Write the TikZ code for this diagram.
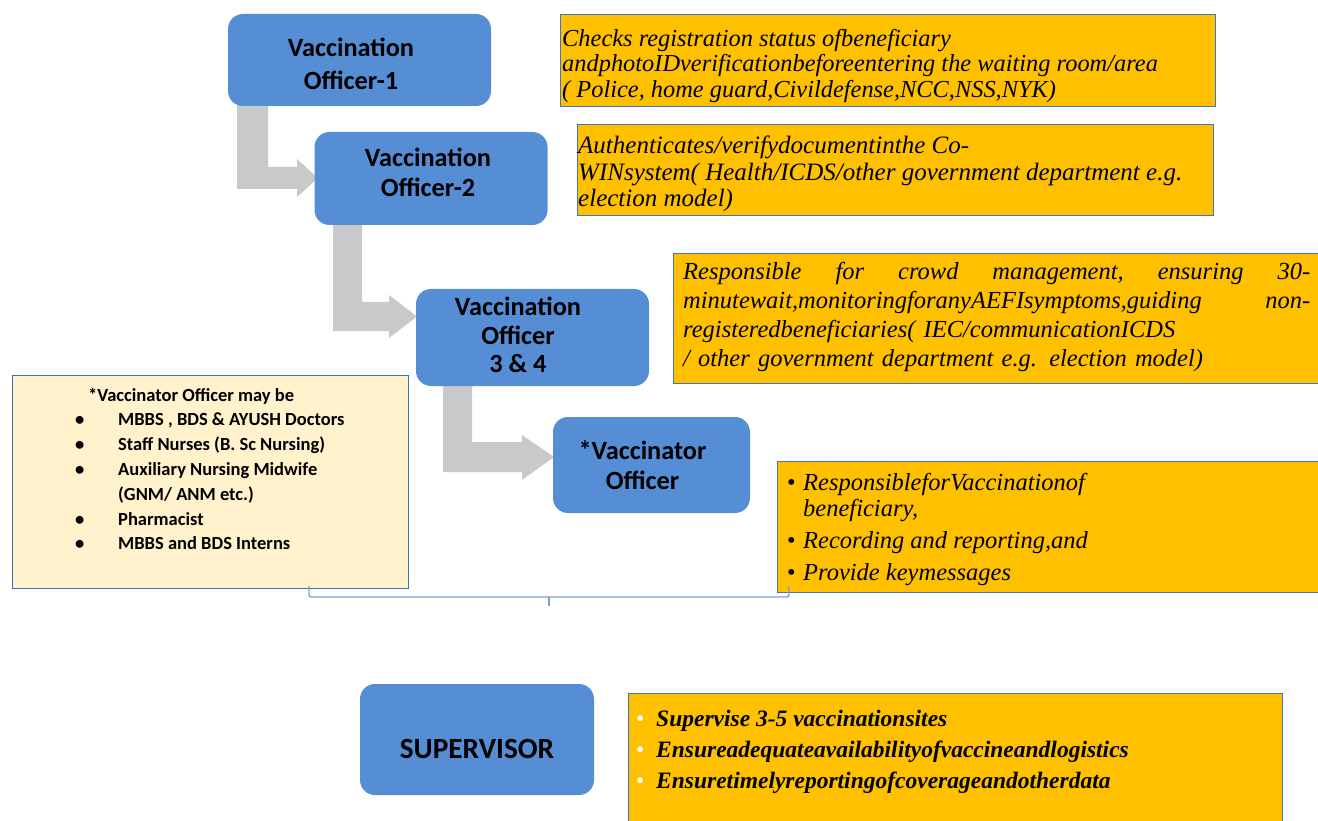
\documentclass[tikz,border=0pt]{standalone}
\usepackage{fontspec}
\setmainfont{Liberation Serif}
\newfontfamily\calibri{Carlito}
\definecolor{boxblue}{RGB}{85,142,213}
\definecolor{orng}{RGB}{255,192,0}
\definecolor{obrd}{RGB}{68,114,196}
\definecolor{lyel}{RGB}{255,242,204}
\definecolor{lbrd}{RGB}{46,117,182}
\definecolor{agray}{RGB}{200,201,203}
\definecolor{brc}{RGB}{122,158,212}
\begin{document}
\begin{tikzpicture}[x=1pt,y=-1pt,
  bluebox/.style={rectangle,rounded corners=15pt,fill=boxblue,draw=none,inner sep=0pt},
  bluetext/.style={inner sep=0pt,align=center,font=\calibri\bfseries\fontsize{26.3}{30}\selectfont},
  obox/.style={rectangle,fill=orng,draw=obrd,line width=0.8pt,inner sep=0pt,anchor=north west},
  otext/.style={inner sep=0pt,anchor=west,align=left,font=\itshape\fontsize{24.4}{25.5}\selectfont},
  garrow/.style={fill=agray,draw=none}]
\clip (0,0) rectangle (1318,821);
\fill[white] (0,0) rectangle (1318,821);

% gray bent arrows
\fill[garrow] (237,100) -- (268,100) -- (268,167) -- (297,167) -- (297,159) -- (318,178) -- (297,197) -- (297,189) -- (237,189) -- cycle;
\fill[garrow] (333,220) -- (362,220) -- (362,302) -- (389,302) -- (389,295) -- (417,316.5) -- (389,338) -- (389,331) -- (333,331) -- cycle;
\fill[garrow] (443,380) -- (472,380) -- (472,442) -- (522,442) -- (522,435) -- (554,457) -- (522,480) -- (522,472) -- (443,472) -- cycle;

% blue boxes
\node[bluebox,minimum width=263pt,minimum height=92pt] (vo1) at (359.5,60) {};
\node[bluetext,font=\calibri\bfseries\fontsize{26.3}{33}\selectfont] (vo1t) at (351,64) {Vaccination\\Officer-1};
\node[bluebox,minimum width=233pt,minimum height=93pt] (vo2) at (431,178.5) {};
\node[bluetext] (vo2t) at (428,172) {Vaccination\\Officer-2};
\node[bluebox,minimum width=233pt,minimum height=97pt] (vo3) at (532.5,337.5) {};
\node[bluetext,font=\calibri\bfseries\fontsize{26.3}{28.5}\selectfont] (vo3t) at (518,335) {Vaccination\\Officer\\3 \& 4};
\node[bluebox,minimum width=197pt,minimum height=96pt] (vac) at (651.5,465) {};
\node[bluetext] (vact) at (642.5,465.5) {*Vaccinator\\Officer};
\node[bluebox,minimum width=234pt,minimum height=111pt] (sup) at (477,739.5) {};
\node[bluetext,font=\calibri\bfseries\fontsize{29.3}{30}\selectfont] (supt) at (477,749) {SUPERVISOR};

% orange boxes
\node[obox,minimum width=655pt,minimum height=92pt] (t1) at (560,14) {};
\node[otext] (t1t) at (562,66) {Checks registration status ofbeneficiary\\andphotoIDverificationbeforeentering the waiting room/area\\( Police, home guard,Civildefense,NCC,NSS,NYK)};
\node[obox,minimum width=636pt,minimum height=91pt] (t2) at (577,124) {};
\node[otext,font=\itshape\fontsize{25}{26.5}\selectfont] (t2t) at (578,174) {Authenticates/verifydocumentinthe Co-\\WINsystem( Health/ICDS/other government department e.g.\\election model)};
\node[obox,minimum width=660pt,minimum height=130pt] (t3) at (673,253) {};
\node[otext,text width=627pt,font=\itshape\fontsize{24.5}{29}\selectfont] (t3t) at (683,317) {Responsible\hfill for\hfill crowd\hfill management,\hfill ensuring\hfill 30-\\minutewait,monitoringforanyAEFIsymptoms,guiding\hfill non-\\registeredbeneficiaries( IEC/communicationICDS\\/ other government department e.g. election model)};
\node[obox,minimum width=560pt,minimum height=131pt] (t4) at (777,461) {};
\node[otext,font=\itshape\fontsize{24.5}{26}\selectfont] (t4t) at (787,530) {\makebox[16pt][l]{\upshape\textbullet}ResponsibleforVaccinationof\\\hspace*{16pt}beneficiary,\\[6pt]\makebox[16pt][l]{\upshape\textbullet}Recording and reporting,and\\[6pt]\makebox[16pt][l]{\upshape\textbullet}Provide keymessages};
\node[obox,minimum width=654pt,minimum height=140pt] (t5) at (628,693) {};
\node[otext,font=\bfseries\itshape\fontsize{23.5}{31}\selectfont] (t5t) at (636,752) {\makebox[20pt][l]{\color{white}\mdseries\upshape\textbullet}Supervise 3-5 vaccinationsites\\\makebox[20pt][l]{\color{white}\mdseries\upshape\textbullet}Ensureadequateavailabilityofvaccineandlogistics\\\makebox[20pt][l]{\color{white}\mdseries\upshape\textbullet}Ensuretimelyreportingofcoverageandotherdata};

% left light box
\node[rectangle,fill=lyel,draw=lbrd,line width=0.8pt,inner sep=0pt,anchor=north west,minimum width=396pt,minimum height=213pt] (lb) at (12,375) {};
\node[inner sep=0pt,anchor=west,align=left,font=\calibri\bfseries\fontsize{18.5}{24.8}\selectfont] (lbt) at (75,469) {\hspace*{13pt}\bfseries *Vaccinator Officer may be\\\makebox[43pt][l]{\textbullet}MBBS , BDS \& AYUSH Doctors\\\makebox[43pt][l]{\textbullet}Staff Nurses (B. Sc Nursing)\\\makebox[43pt][l]{\textbullet}Auxiliary Nursing Midwife\\\hspace*{43pt}(GNM/ ANM etc.)\\\makebox[43pt][l]{\textbullet}Pharmacist\\\makebox[43pt][l]{\textbullet}MBBS and BDS Interns};

% brace
\coordinate (bl) at (309,586);
\coordinate (br) at (789,586);
\coordinate (bm) at (549,606);
\coordinate (blc) at (309,597);
\coordinate (brc) at (789,597);
\coordinate (bmc) at (549,597);
\draw[brc,line width=1.3pt,rounded corners=2pt] (bl) -- (blc) -- (brc) -- (br);
\draw[brc,line width=1.3pt] (bmc) -- (bm);
\end{tikzpicture}
\end{document}
